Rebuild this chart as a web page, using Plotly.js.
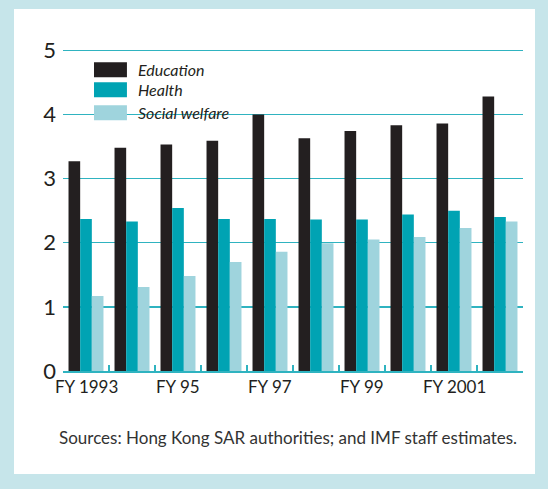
<!DOCTYPE html>
<html>
<head>
<meta charset="utf-8">
<script src="https://cdn.plot.ly/plotly-3.0.1.min.js"></script>
<style>
  html, body { margin: 0; padding: 0; background: #c6e5ea; width: 548px; height: 489px; overflow: hidden; }
  #chart { position: absolute; left: 14px; top: 9px; width: 521px; height: 465px; background: #ffffff; }
</style>
</head>
<body>
<div id="chart"></div>
<script>
const years = [1993, 1994, 1995, 1996, 1997, 1998, 1999, 2000, 2001, 2002];
const education = [3.27, 3.48, 3.53, 3.59, 4.00, 3.63, 3.74, 3.83, 3.86, 4.28];
const health = [2.37, 2.33, 2.54, 2.37, 2.37, 2.36, 2.36, 2.44, 2.50, 2.40];
const socialWelfare = [1.17, 1.31, 1.48, 1.70, 1.86, 1.99, 2.05, 2.09, 2.23, 2.33];
const tickLabelYears = [1993, 1995, 1997, 1999, 2001];
const tickLabels = ["FY 1993", "FY 95", "FY 97", "FY 99", "FY 2001"];
const seriesNames = ["Education", "Health", "Social welfare"];
const colors = ["#231f20", "#00a3b3", "#9fd4dd"];

const FONT = "Lato, 'Open Sans', sans-serif";
const ink = "#231f20";
const teal = "#2fb3c0";

const traces = [education, health, socialWelfare].map((vals, i) => ({
  type: "bar",
  x: years,
  y: vals,
  name: seriesNames[i],
  marker: { color: colors[i] },
  hoverinfo: "skip"
}));

const boundaries = [];
for (let i = 0; i <= years.length; i++) boundaries.push(years[0] - 0.5 + i);

const shapes = [
  { type: "rect", xref: "paper", yref: "paper", x0: 0.052, x1: 0.385, y0: 0.760, y1: 0.977,
    fillcolor: "#ffffff", line: { width: 0 }, layer: "below" }
];
const swY = [[0.912, 0.959], [0.850, 0.897], [0.779, 0.825]];
const txtY = [0.935, 0.874, 0.802];
const annotations = [];
seriesNames.forEach((n, i) => {
  shapes.push({ type: "rect", xref: "paper", yref: "paper", x0: 0.0674, x1: 0.139,
    y0: swY[i][0], y1: swY[i][1], fillcolor: colors[i], line: { width: 0 }, layer: "above" });
  annotations.push({ xref: "paper", yref: "paper", x: 0.158, y: txtY[i], xanchor: "left", yanchor: "middle",
    text: "<i>" + n + "</i>", showarrow: false, font: { family: FONT, size: 16, color: ink } });
});
tickLabelYears.forEach((yr, i) => {
  annotations.push({ xref: "x", yref: "paper", x: yr, y: 0, yanchor: "top", yshift: -3,
    text: tickLabels[i], showarrow: false, font: { family: FONT, size: 17, color: ink } });
});
annotations.push({ xref: "paper", yref: "paper", x: 0.49, y: -0.205, xanchor: "center", yanchor: "middle",
  text: "Sources: Hong Kong SAR authorities; and IMF staff estimates.", showarrow: false,
  font: { family: FONT, size: 17, color: "#333333" } });

const layout = {
  width: 521, height: 465,
  margin: { l: 49, r: 12, t: 40, b: 102.5 },
  paper_bgcolor: "#ffffff",
  plot_bgcolor: "#ffffff",
  barmode: "group",
  bargap: 0.24,
  bargroupgap: 0,
  showlegend: false,
  font: { family: FONT, color: ink },
  xaxis: {
    range: [years[0] - 0.5, years[years.length - 1] + 0.5],
    tickmode: "array",
    tickvals: boundaries,
    ticktext: boundaries.map(() => ""),
    ticks: "inside", ticklen: 6, tickwidth: 1.5, tickcolor: teal,
    showline: true, linecolor: teal, linewidth: 1.5,
    showgrid: false, zeroline: false, fixedrange: true
  },
  yaxis: {
    range: [0, 5.02],
    tickvals: [0, 1, 2, 3, 4, 5],
    ticktext: ["0", "1", "2", "3", "4", "5"],
    tickfont: { family: FONT, size: 22, color: ink },
    showgrid: true, gridcolor: teal, gridwidth: 1.5,
    zeroline: false, showline: false, ticks: "", ticklabelstandoff: 6,
    fixedrange: true
  },
  shapes: shapes,
  annotations: annotations
};

Plotly.newPlot("chart", traces, layout, { staticPlot: true, displayModeBar: false });
</script>
</body>
</html>
